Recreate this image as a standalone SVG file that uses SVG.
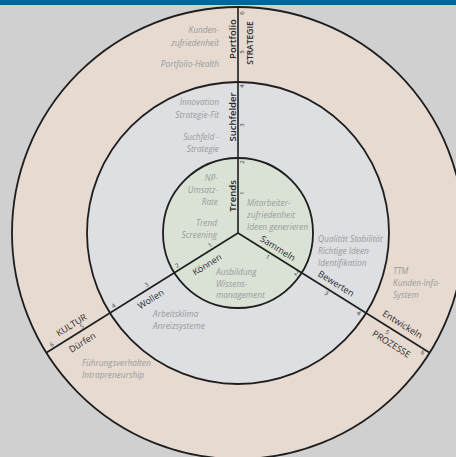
<svg xmlns="http://www.w3.org/2000/svg" width="456" height="457" viewBox="0 0 456 457">
<style>
.ring{stroke:#1e1e1e;stroke-width:1.8}
.ln{stroke:#1e1e1e;stroke-width:1.6;fill:none}
.g{font-family:"Open Sans","DejaVu Sans",sans-serif;font-style:italic;font-size:8.3px;fill:#9a9a9a}
.e{text-anchor:end}
.lab{font-family:"Open Sans","DejaVu Sans",sans-serif;font-size:9px;fill:#2a2a2a;text-anchor:middle;dominant-baseline:central}
.vl{font-family:"Open Sans","DejaVu Sans",sans-serif;font-size:9.5px;font-weight:600;fill:#2a2a2a;text-anchor:middle}
.cap{font-size:8.5px}
.d{font-family:"Open Sans","DejaVu Sans",sans-serif;font-size:6px;fill:#2a2a2a;text-anchor:middle;dominant-baseline:central}
</style>
<rect width="456" height="457" fill="#d1d0d0"/>
<rect width="456" height="5" fill="#00639c"/>
<g id="ring-outer"><circle class="ring" cx="238" cy="233" r="226" fill="#e6dad1"/></g>
<g id="ring-middle"><circle class="ring" cx="238" cy="233" r="151" fill="#dddfe2"/></g>
<g id="ring-inner"><circle class="ring" cx="238" cy="233" r="75" fill="#dae2d6"/></g>
<g id="connectors">
<line class="ln" x1="238" y1="233" x2="238" y2="7"/>
<line class="ln" x1="238" y1="233" x2="429.7" y2="352.8"/>
<line class="ln" x1="238" y1="233" x2="46.3" y2="352.8"/>
</g>
<g id="axis-strategie">
<text class="vl" transform="translate(235.5,39) rotate(-90)">Portfolio</text>
<text class="vl" transform="translate(235.5,117) rotate(-90)">Suchfelder</text>
<text class="vl" transform="translate(235.5,196) rotate(-90)">Trends</text>
<text class="vl cap" transform="translate(252.5,43) rotate(-90)">STRATEGIE</text>
<text class="d" transform="translate(242,13) rotate(-90)">6</text>
<text class="d" transform="translate(242,52) rotate(-90)">5</text>
<text class="d" transform="translate(242,86) rotate(-90)">4</text>
<text class="d" transform="translate(242,125) rotate(-90)">3</text>
<text class="d" transform="translate(242,162) rotate(-90)">2</text>
<text class="d" transform="translate(242,193) rotate(-90)">1</text>
</g>
<g id="axis-prozesse" transform="translate(238,233) rotate(32)">
<text class="lab" x="42" y="-8.5">Sammeln</text>
<text class="d" x="38" y="4.5">1</text>
<text class="d" x="71" y="3">2</text>
<text class="lab" x="110" y="-9.5">Bewerten</text>
<text class="d" x="107" y="4">3</text>
<text class="d" x="145" y="4">4</text>
<text class="lab" x="188" y="-10">Entwickeln</text>
<text class="d" x="179" y="5">5</text>
<text class="lab" x="189" y="12.5" font-size="8.5">PROZESSE</text>
<text class="d" x="220" y="3.5">6</text>
</g>
<g id="axis-kultur" transform="translate(238,233) rotate(-32)">
<text class="d" x="-30" y="-4.5">1</text>
<text class="lab" x="-43" y="10">Können</text>
<text class="d" x="-69" y="-4.5">2</text>
<text class="d" x="-105" y="-4.5">3</text>
<text class="lab" x="-109" y="9.5">Wollen</text>
<text class="d" x="-144" y="-4">4</text>
<text class="lab" x="-190" y="-10.5" font-size="8.5">KULTUR</text>
<text class="d" x="-182" y="-3.5">5</text>
<text class="lab" x="-190" y="10">Dürfen</text>
<text class="d" x="-217" y="-4">6</text>
</g>
<g id="text-strategie">
<text class="g e" x="219" y="33">Kunden-</text>
<text class="g e" x="219" y="46">zufriedenheit</text>
<text class="g e" x="219" y="67">Portfolio-Health</text>
<text class="g e" x="219" y="105">Innovation</text>
<text class="g e" x="219" y="118">Strategie-Fit</text>
<text class="g e" x="219" y="140">Suchfeld -</text>
<text class="g e" x="219" y="152">Strategie</text>
<text class="g e" x="218" y="181">NP-</text>
<text class="g e" x="218" y="193">Umsatz-</text>
<text class="g e" x="218" y="205">Rate</text>
<text class="g e" x="217" y="226">Trend</text>
<text class="g e" x="217" y="238">Screening</text>
</g>
<g id="text-prozesse">
<text class="g" x="247" y="206">Mitarbeiter-</text>
<text class="g" x="247" y="218">zufriedenheit</text>
<text class="g" x="247" y="230">Ideen generieren</text>
<text class="g" x="318" y="242">Qualität Stabilität</text>
<text class="g" x="318" y="254">Richtige Ideen</text>
<text class="g" x="318" y="266">Identifikation</text>
<text class="g" x="393" y="274">TTM</text>
<text class="g" x="393" y="286">Kunden-Info-</text>
<text class="g" x="393" y="298">System</text>
</g>
<g id="text-kultur">
<text class="g" x="216" y="275">Ausbildung</text>
<text class="g" x="216" y="287">Wissens-</text>
<text class="g" x="216" y="298">management</text>
<text class="g" x="153" y="317">Arbeitsklima</text>
<text class="g" x="153" y="329">Anreizsysteme</text>
<text class="g" x="82" y="366">Führungsverhalten</text>
<text class="g" x="82" y="378">Intrapreneurship</text>
</g>
</svg>
